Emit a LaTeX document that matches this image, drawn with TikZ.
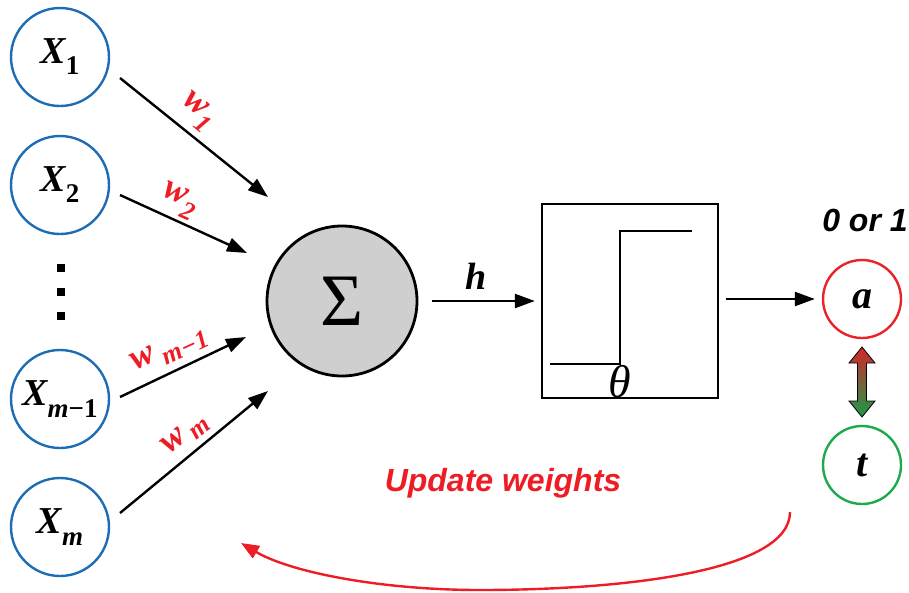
\documentclass[tikz,border=0pt]{standalone}
\usepackage{fontspec}
\setmainfont{Liberation Serif}
\newfontfamily\labelsans{Liberation Sans}
\usetikzlibrary{arrows.meta}
\definecolor{nodeblue}{HTML}{1D6CB4}
\definecolor{wred}{HTML}{EE1C24}
\definecolor{outred}{HTML}{E8232A}
\definecolor{tgreen}{HTML}{1DAA4D}
\definecolor{sigmagray}{HTML}{CFCFCF}
\definecolor{shadered}{HTML}{D4262A}
\definecolor{shadegreen}{HTML}{1B9A4A}
\newcommand{\fsz}[1]{\fontsize{#1}{#1}\selectfont}
\begin{document}
\begin{tikzpicture}[x=1pt,y=-1pt,
  innode/.style={circle, draw=nodeblue, line width=2.4pt, minimum size=98pt, inner sep=0pt},
  outnode/.style={circle, line width=2.4pt, minimum size=78pt, inner sep=0pt},
  arr/.style={line width=2.4pt, -{Triangle[length=20pt,width=14pt]}},
  wlab/.style={text=wred, font=\bfseries\itshape, inner sep=0pt},
  bigtxt/.style={font=\bfseries\itshape\fsz{38}, inner sep=0pt}
]
\useasboundingbox (0,0) rectangle (909,592);

% input nodes
\node[innode] (x1) at (60,57) {\bfseries\itshape\fsz{38}X\raisebox{-11pt}{\upshape\fsz{27}1}};
\node[innode] (x2) at (60,185) {\bfseries\itshape\fsz{38}X\raisebox{-11pt}{\upshape\fsz{27}2}};
\node[innode] (xm1) at (60,399) {\bfseries\itshape\fsz{38}X\raisebox{-12pt}{\fsz{27}m\upshape−1}};
\node[innode] (xm) at (60,527) {\bfseries\itshape\fsz{38}X\raisebox{-12pt}{\fsz{27}m}};

% vertical dots
\fill (57,264) rectangle (65,272);
\fill (57,288) rectangle (65,296);
\fill (57,312) rectangle (65,320);

% summation node
\node[circle, draw, line width=2.8pt, fill=sigmagray, minimum size=150pt, inner sep=0pt] (sig) at (342,301) {\fsz{74}Σ};

% step function box
\node[draw, line width=2.4pt, minimum width=176pt, minimum height=194pt, inner sep=0pt] (box) at (630,301) {};
\draw[line width=2.4pt] (550,364) -- (620,364) -- (620,231) -- (692,231);
\node[font=\itshape\fsz{46}, inner sep=0pt] (theta) at (620,382) {θ};

% output / target
\node[outnode, draw=outred] (a) at (862,299) {\bfseries\itshape\fsz{40}a};
\node[outnode, draw=tgreen] (t) at (862,465) {\bfseries\itshape\fsz{40}t};
\node[font=\labelsans\bfseries\itshape\fsz{32}, inner sep=0pt] (zo) at (865,220) {0 or 1};

% arrow endpoints
\coordinate (s1) at (120,78);   \coordinate (e1) at (268,197);
\coordinate (s2) at (120,195);  \coordinate (e2) at (247,253);
\coordinate (s3) at (120,397);  \coordinate (e3) at (246,337);
\coordinate (s4) at (120,513);  \coordinate (e4) at (268,391);

\draw[arr] (s1) -- (e1);
\draw[arr] (s2) -- (e2);
\draw[arr] (s3) -- (e3);
\draw[arr] (s4) -- (e4);

% weight labels
\node[wlab, rotate=-39] (w1) at (197,112) {\fsz{36}w\raisebox{-12pt}{\fsz{26}1}};
\node[wlab, rotate=-24] (w2) at (179,201) {\fsz{36}w\raisebox{-12pt}{\fsz{26}2}};
\node[wlab, rotate=25] (w3) at (170,350) {\fsz{36}w\,\raisebox{-9pt}{\fsz{26}m−1}};
\node[wlab, rotate=39] (w4) at (186,435) {\fsz{36}w\,\raisebox{-6pt}{\fsz{26}m}};

% h arrow and output arrow
\draw[arr, shorten <=14pt, shorten >=6pt] (sig) -- (box);
\node[bigtxt] (h) at (476,276) {h};
\draw[arr, shorten <=7pt, shorten >=7pt] (box.east |- a) -- (a);

% double arrow between a and t
\shade[top color=shadered, bottom color=shadegreen, draw=black, line width=0.8pt]
  (862,347) -- (875,363) -- (866.5,363) -- (866.5,401) -- (875,401) -- (862,417)
  -- (849,401) -- (857.5,401) -- (857.5,363) -- (849,363) -- cycle;

% update weights
\node[text=wred, font=\labelsans\bfseries\itshape\fsz{32}, inner sep=0pt] (uw) at (503,483) {Update weights};
\coordinate (cs) at (790,512);
\coordinate (ce) at (241,543);
\draw[wred, line width=2.4pt, -{Triangle[length=18pt,width=14pt]}]
  (cs) .. controls (790,572) and (620,590) .. (480,590)
  .. controls (380,590) and (290,572) .. (ce);
\end{tikzpicture}
\end{document}
